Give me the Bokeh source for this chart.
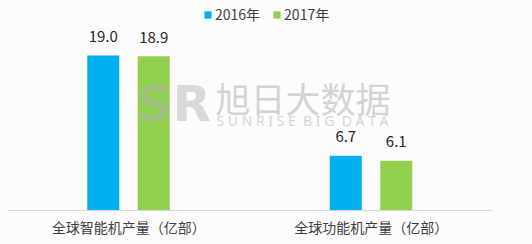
from bokeh.plotting import figure
from bokeh.models import ColumnDataSource, Legend, LegendItem, Label, FactorRange, Range1d
from bokeh.transform import dodge
from bokeh.core.properties import value
from bokeh.embed import file_html
from bokeh.resources import INLINE

categories = ["全球智能机产量（亿部）", "全球功能机产量（亿部）"]
series_names = ["2016年", "2017年"]
values_2016 = [19.0, 6.7]
values_2017 = [18.9, 6.1]
colors = ["#00B0F0", "#92D050"]

src = ColumnDataSource(dict(
    cat=categories,
    v16=values_2016,
    v17=values_2017,
    l16=[f"{v:.1f}" for v in values_2016],
    l17=[f"{v:.1f}" for v in values_2017],
))

p = figure(width=532, height=244, x_range=FactorRange(*categories), y_range=Range1d(0, 25.74),
           output_backend="svg", toolbar_location=None,
           min_border_left=7, min_border_right=40, min_border_top=0, min_border_bottom=34)
p.background_fill_color = "#fcfcfc"
p.border_fill_color = "#fcfcfc"
p.outline_line_color = None
p.grid.visible = False
p.yaxis.visible = False
p.x_range.range_padding = 0

ax = p.xaxis[0]
ax.axis_line_color = "#d9d9d9"
ax.axis_line_width = 1
ax.major_tick_line_color = None
ax.minor_tick_line_color = None
ax.major_label_text_font = "Noto Sans CJK SC"
ax.major_label_text_font_size = "14px"
ax.major_label_text_color = "#404040"
ax.major_label_standoff = 0

p.add_layout(Label(x=129, y=78, x_units="screen", y_units="screen", text="SR",
                   text_font="DejaVu Sans", text_font_size="50px", text_font_style="bold",
                   text_color="#b0b0b0", text_alpha=0.45))

r16 = p.vbar(x=dodge("cat", -0.105, range=p.x_range), top="v16", width=0.132, source=src,
             fill_color=colors[0], line_color=None)
r17 = p.vbar(x=dodge("cat", 0.103, range=p.x_range), top="v17", width=0.132, source=src,
             fill_color=colors[1], line_color=None)

for x_off, col in [(-0.105, "v16"), (0.103, "v17")]:
    p.text(x=dodge("cat", x_off, range=p.x_range), y=col, text=("l16" if col == "v16" else "l17"),
           source=src, text_align="center", text_baseline="alphabetic", y_offset=-19,
           text_font=value("Noto Sans CJK SC"), text_font_size="15px", text_color="#262626")

legend = Legend(items=[LegendItem(label=series_names[0], renderers=[r16]),
                       LegendItem(label=series_names[1], renderers=[r17])],
                orientation="horizontal", location=(196, 186),
                glyph_width=9, glyph_height=9, label_standoff=3, spacing=12,
                padding=0, margin=0, border_line_color=None, background_fill_alpha=0,
                label_text_font="Noto Sans CJK SC", label_text_font_size="14px",
                label_text_color="#404040", label_height=14)
p.add_layout(legend, "center")

p.add_layout(Label(x=208, y=88, x_units="screen", y_units="screen", text="旭日大数据",
                   text_font="Noto Sans CJK SC", text_font_size="35px",
                   text_color="#b8b8b8", text_alpha=0.6))
p.add_layout(Label(x=209, y=81, x_units="screen", y_units="screen",
                   text="S\u00a0U\u00a0N\u00a0R\u00a0I\u00a0S\u00a0E\u00a0\u00a0B\u00a0I\u00a0G\u00a0\u00a0D\u00a0A\u00a0T\u00a0A",
                   text_font="Noto Sans", text_font_size="14px",
                   text_color="#b8b8b8", text_alpha=0.6))

open("out.html", "w").write(file_html(p, INLINE))
